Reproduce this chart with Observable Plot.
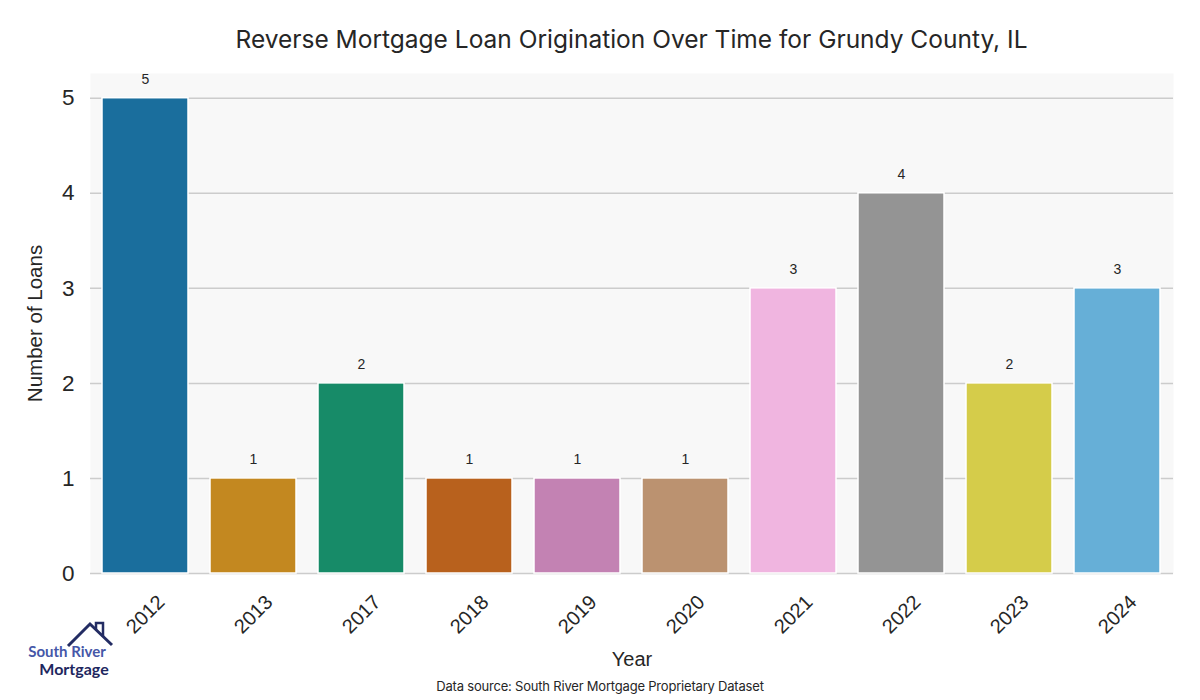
<!DOCTYPE html>
<html>
<head>
<meta charset="utf-8">
<script src="https://cdn.jsdelivr.net/npm/d3@7"></script>
<script src="https://cdn.jsdelivr.net/npm/@observablehq/plot@0.6"></script>
<style>
  html, body { margin: 0; padding: 0; background: #ffffff; }
  #wrap { position: relative; width: 1200px; height: 700px; overflow: hidden; }
  #title { position: absolute; left: 90px; width: 1083px; top: 0; height: 73px; line-height: 78px; text-align: center; font-family: Inter, "Noto Sans", sans-serif; font-size: 24.5px; color: #262626; letter-spacing: 0px; white-space: nowrap; }
  #caption { position: absolute; left: 0; top: 678px; width: 1200px; text-align: center; font-family: Inter, "Noto Sans", sans-serif; font-size: 13px; color: #262626; letter-spacing: -0.2px; }
  #logo { position: absolute; left: 0; top: 610px; }
  #chart { position: absolute; left: 0; top: 73px; }
  #chart svg { display: block; overflow: visible; }
</style>
</head>
<body>
<div id="wrap">
  <div id="title">Reverse Mortgage Loan Origination Over Time for Grundy County, IL</div>
  <div id="chart"></div>
  <div id="caption">Data source: South River Mortgage Proprietary Dataset</div>
  <svg id="logo" width="130" height="80" viewBox="0 0 130 80">
    <path d="M68,36 L90,14 L112,35" fill="none" stroke="#232c63" stroke-width="3" stroke-linejoin="miter"/>
    <path d="M96,20 L96,13 L103,13 L103,27" fill="none" stroke="#232c63" stroke-width="2.5"/>
    <text x="67" y="47" text-anchor="middle" font-family="Lato, 'Noto Sans', sans-serif" font-weight="700" font-size="15" fill="#4657a8">South River</text>
    <text x="74" y="65" text-anchor="middle" font-family="Lato, 'Noto Sans', sans-serif" font-weight="700" font-size="16" fill="#1e2760">Mortgage</text>
  </svg>
</div>
<script>
const years = ["2012", "2013", "2017", "2018", "2019", "2020", "2021", "2022", "2023", "2024"];
const loans = [5, 1, 2, 1, 1, 1, 3, 4, 2, 3];
const barColors = ["#1a6e9d", "#c38820", "#178b68", "#b8611d", "#c382b3", "#bb9270", "#f0b5e0", "#949494", "#d5cc4a", "#66afd7"];
const yTicks = [0, 1, 2, 3, 4, 5];

const data = years.map((y, i) => ({year: y, loans: loans[i], color: barColors[i]}));

const chart = Plot.plot({
  width: 1200,
  height: 600,
  marginTop: 0,
  marginBottom: 100,
  marginLeft: 90,
  marginRight: 27,
  style: {fontFamily: "'Liberation Sans', Arial, sans-serif", color: "#262626", background: "transparent"},
  x: {domain: years, paddingInner: 0.2, paddingOuter: 0.1, label: null},
  y: {domain: [0, 5.26], label: null},
  color: {type: "identity"},
  marks: [
    Plot.frame({fill: "#f8f8f8", stroke: null}),
    Plot.gridY(yTicks, {stroke: "#cccccc", strokeOpacity: 1, strokeWidth: 1.5}),
    Plot.barY(data, {x: "year", y: "loans", fill: "color", stroke: "white", strokeWidth: 1.5}),
    Plot.text(data, {x: "year", y: "loans", text: d => String(d.loans), dy: -19, fontSize: 14, fill: "#262626"}),
    Plot.axisY(yTicks, {tickSize: 0, tickPadding: 16, fontSize: 22.5, tickFormat: "d", label: null, fill: "#262626"}),
    Plot.axisX({tickSize: 0, tickPadding: 0, tickRotate: -45, textAnchor: "middle", lineAnchor: "middle", dy: 41, fontSize: 20, label: null, fill: "#262626"}),
    Plot.text(["Number of Loans"], {frameAnchor: "left", textAnchor: "middle", dx: -55, rotate: -90, fontSize: 20.5, fill: "#262626"}),
    Plot.text(["Year"], {frameAnchor: "bottom", dy: 92, fontSize: 20, fill: "#262626"})
  ]
});
document.getElementById("chart").appendChild(chart);
</script>
</body>
</html>
